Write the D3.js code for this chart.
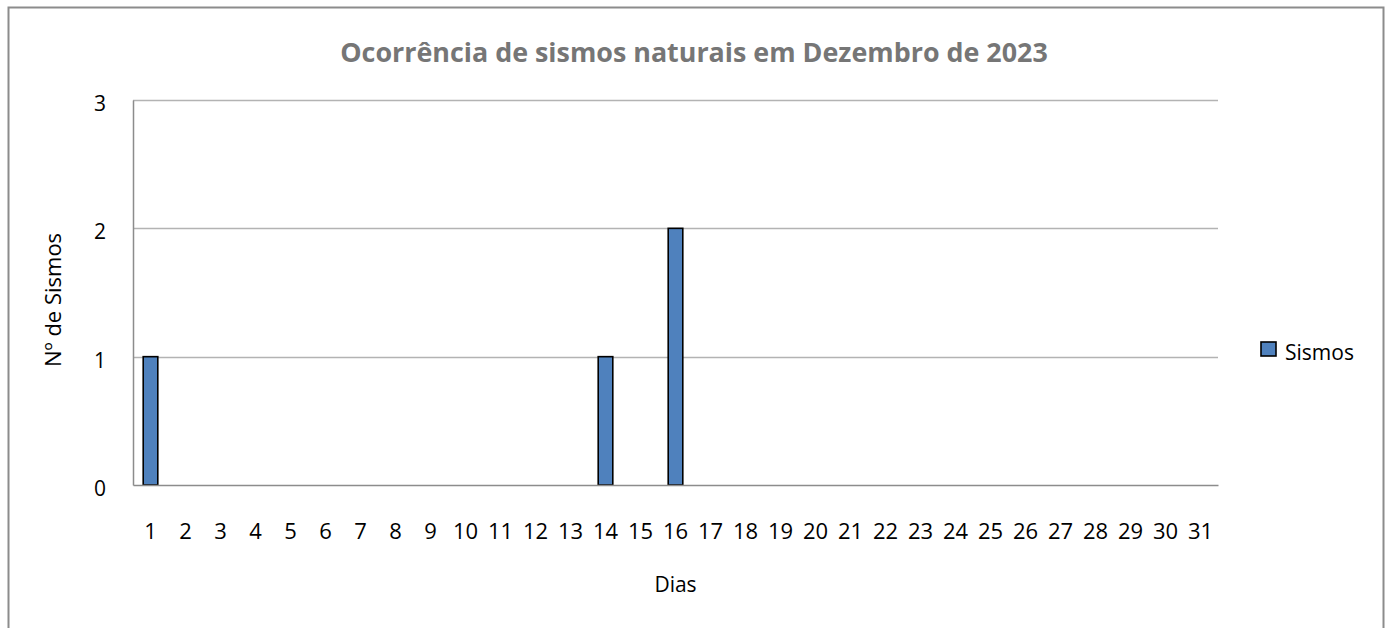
<!DOCTYPE html>
<html>
<head>
<meta charset="utf-8">
<script src="https://cdn.jsdelivr.net/npm/d3@7/dist/d3.min.js"></script>
<style>
  html, body { margin: 0; padding: 0; background: #ffffff; }
  svg { display: block; }
</style>
</head>
<body>
<svg id="chart" width="1391" height="628"></svg>
<script>
const chartTitle = "Ocorrência de sismos naturais em Dezembro de 2023";
const xAxisTitle = "Dias";
const yAxisTitle = "Nº de Sismos";
const seriesName = "Sismos";
const days = ["1","2","3","4","5","6","7","8","9","10","11","12","13","14","15","16","17","18","19","20","21","22","23","24","25","26","27","28","29","30","31"];
const sismos = [1,0,0,0,0,0,0,0,0,0,0,0,0,1,0,2,0,0,0,0,0,0,0,0,0,0,0,0,0,0,0];
const yTicks = [0,1,2,3];

const W = 1391, H = 628;
const font = "'Open Sans', 'Noto Sans', sans-serif";
const plot = { left: 133, right: 1218, top: 100, bottom: 485 };
const svg = d3.select("#chart");

// chart frame
svg.append("rect")
  .attr("x", 8.5).attr("y", 7.5)
  .attr("width", 1375).attr("height", 640)
  .attr("fill", "#ffffff").attr("stroke", "#8c8c8c").attr("stroke-width", 2);

const x = d3.scaleBand().domain(days).range([plot.left, plot.right])
  .paddingInner(0.583).paddingOuter(0.2915);
const y = d3.scaleLinear().domain([0, 3]).range([plot.bottom, plot.top]);

// gridlines
svg.append("g").selectAll("line").data(yTicks.filter(d => d > 0)).join("line")
  .attr("x1", plot.left).attr("x2", plot.right)
  .attr("y1", d => Math.round(y(d)) + 0.5).attr("y2", d => Math.round(y(d)) + 0.5)
  .attr("stroke", "#b3b3b3").attr("stroke-width", 1.5);

// y axis
const yAxis = svg.append("g")
  .attr("transform", `translate(${plot.left},0)`)
  .call(d3.axisLeft(y).tickValues(yTicks).tickFormat(d3.format("d")).tickSize(0).tickPadding(27));
yAxis.select(".domain").attr("stroke", "#8c8c8c").attr("stroke-width", 1.5);
yAxis.selectAll("text").attr("font-family", font).attr("font-size", 21).attr("fill", "#000")
  .attr("dy", "0.5em");

// bars
svg.append("g").selectAll("rect").data(sismos).join("rect")
  .attr("x", (d, i) => x(days[i]))
  .attr("y", d => y(d))
  .attr("width", x.bandwidth())
  .attr("height", d => y(0) - y(d))
  .attr("fill", "#4f81bd")
  .attr("stroke", d => d > 0 ? "#000000" : "none")
  .attr("stroke-width", 1.6);

// x axis
const xAxis = svg.append("g")
  .attr("transform", `translate(0,${plot.bottom})`)
  .call(d3.axisBottom(x).tickSize(0).tickPadding(38));
xAxis.select(".domain").attr("stroke", "#8c8c8c").attr("stroke-width", 1.5);
xAxis.selectAll("text").attr("font-family", font).attr("font-size", 22).attr("fill", "#000");

// title
const t = svg.append("text")
  .attr("x", 694).attr("y", 62)
  .attr("text-anchor", "middle")
  .attr("font-family", font).attr("font-weight", "bold").attr("font-size", 26)
  .attr("fill", "#767676")
  .text(chartTitle);
const tw = t.node().getComputedTextLength();
t.attr("font-size", 26 * 708 / tw);

// axis titles
svg.append("text")
  .attr("x", (plot.left + plot.right) / 2).attr("y", 592)
  .attr("text-anchor", "middle")
  .attr("font-family", font).attr("font-size", 21).attr("fill", "#000")
  .text(xAxisTitle);

svg.append("text")
  .attr("transform", `translate(61,300) rotate(-90)`)
  .attr("text-anchor", "middle")
  .attr("font-family", font).attr("font-size", 22).attr("fill", "#000")
  .text(yAxisTitle);

// legend
const lg = svg.append("g").attr("transform", "translate(1261,342)");
lg.append("rect").attr("width", 15).attr("height", 14)
  .attr("fill", "#4f81bd").attr("stroke", "#000").attr("stroke-width", 1.6);
lg.append("text").attr("x", 24).attr("y", 18)
  .attr("font-family", font).attr("font-size", 21).attr("fill", "#000")
  .text(seriesName);
</script>
</body>
</html>
